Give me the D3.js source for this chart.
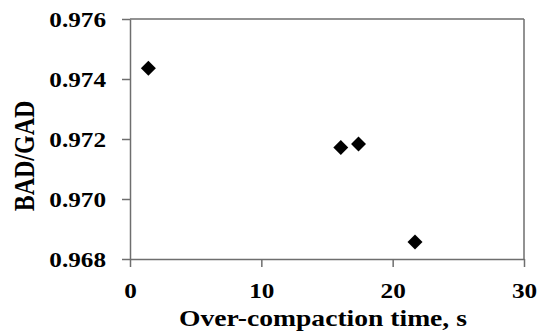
<!DOCTYPE html>
<html>
<head>
<meta charset="utf-8">
<script src="https://cdn.jsdelivr.net/npm/d3@7"></script>
<style>
  body { margin: 0; background: #fff; }
  text { font-family: "Liberation Serif", "Times New Roman", serif; font-weight: bold; fill: #000; }
</style>
</head>
<body>
<svg id="chart" width="541" height="333"></svg>
<script>
// over-compaction time (s) vs BAD/GAD ratio
const times = [1.4, 16.05, 17.4, 21.7];
const ratios = [0.97436, 0.97172, 0.97183, 0.96857];
const xTicks = [0, 10, 20, 30];
const yTicks = [0.968, 0.970, 0.972, 0.974, 0.976];

const svg = d3.select('#chart');
const stretch = 1.2; // source picture is widened horizontally
const axisColor = '#6e6e6e';

const x = d3.scaleLinear().domain([0, 30]).range([130, 524]);
const y = d3.scaleLinear().domain([0.968, 0.976]).range([259, 19]);

// top and right frame lines
svg.append('line')
    .attr('x1', x(0)).attr('x2', x(30))
    .attr('y1', y(0.976)).attr('y2', y(0.976))
    .attr('stroke', axisColor).attr('stroke-width', 1.5);
svg.append('line')
    .attr('x1', x(30)).attr('x2', x(30))
    .attr('y1', y(0.976)).attr('y2', y(0.968))
    .attr('stroke', axisColor).attr('stroke-width', 1.5);

const yAxis = svg.append('g')
    .attr('transform', `translate(${x(0)},0)`)
    .call(d3.axisLeft(y).tickValues(yTicks).tickFormat(d3.format('.3f')).tickSize(8).tickSizeOuter(0));

const xAxis = svg.append('g')
    .attr('transform', `translate(0,${y(0.968)})`)
    .call(d3.axisBottom(x).tickValues(xTicks).tickFormat(d3.format('d')).tickSize(8).tickSizeOuter(0));

[yAxis, xAxis].forEach(g => {
  g.selectAll('path, line').attr('stroke', axisColor).attr('stroke-width', 1.5);
  g.selectAll('text').attr('font-size', 21).attr('font-family', null).attr('fill', '#000');
});

yAxis.selectAll('text')
    .attr('x', -24 / stretch)
    .attr('dy', '0.34em')
    .attr('transform', `scale(${stretch},1)`);

xAxis.selectAll('text')
    .attr('y', 39)
    .attr('dy', 0)
    .attr('transform', `scale(${stretch},1)`);

// points
const diamond = d3.symbol().type(d3.symbolSquare).size(112);
svg.append('g').selectAll('path')
    .data(times.map((t, i) => [t, ratios[i]]))
  .enter().append('path')
    .attr('d', diamond)
    .attr('transform', d => `translate(${x(d[0])},${y(d[1])}) rotate(45)`)
    .attr('fill', '#000');

// axis titles
svg.append('text')
    .attr('transform', `translate(323,326) scale(${stretch},1)`)
    .attr('text-anchor', 'middle')
    .attr('font-size', 23)
    .text('Over-compaction time, s');

svg.append('text')
    .attr('transform', `translate(34,156) rotate(-90) scale(1,${stretch})`)
    .attr('text-anchor', 'middle')
    .attr('font-size', 24)
    .text('BAD/GAD');
</script>
</body>
</html>
